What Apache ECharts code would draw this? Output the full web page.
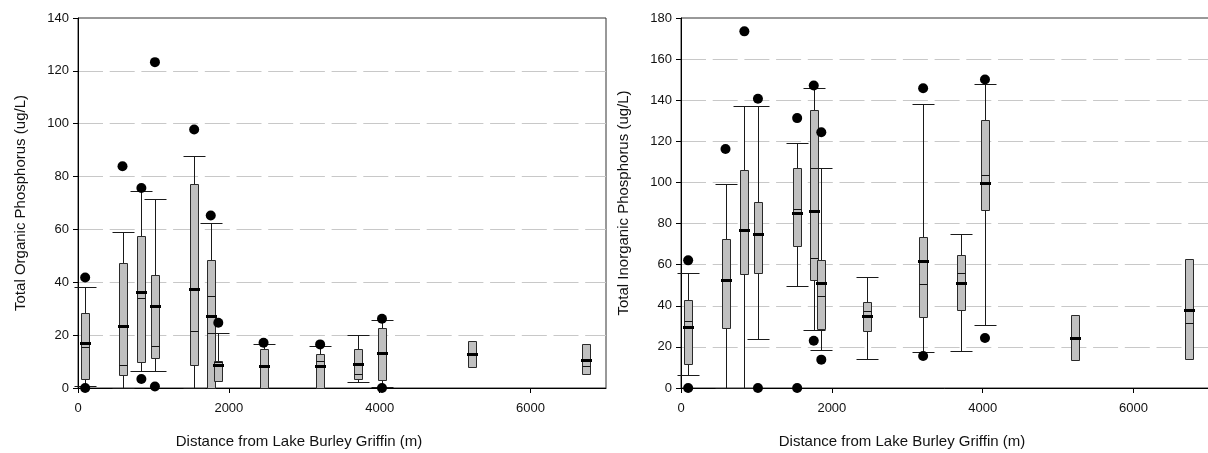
<!DOCTYPE html>
<html><head><meta charset="utf-8">
<script src="https://cdn.jsdelivr.net/npm/echarts@6/dist/echarts.min.js"></script>
<style>html,body{margin:0;padding:0;background:#fff}#c{width:1208px;height:453px}</style>
</head><body><div id="c"></div>
<script>
// Distance of each sampling site from Lake Burley Griffin (m)
const distances = [95, 590, 840, 1020, 1540, 1760, 1860, 2460, 3210, 3710, 4030, 5230, 6730];

// Total Organic Phosphorus (ug/L)
const orgLow  = [0.9, 0,    6.4,  6.4,  0,    0,    2.8,  0,    0,    2.1,  0.2,  7.9,  5.4];
const orgQ1   = [3.4, 5.0,  9.9,  11.3, 8.7,  0,    2.8,  0,    0,    3.4,  3.1,  7.9,  5.4];
const orgMed  = [15.7, 8.6, 34.0, 16.0, 21.7, 34.7, 9.7,  8.4,  10.1, 5.4,  13.4, 12.9, 8.4];
const orgQ3   = [28.4, 47.3, 57.5, 42.6, 77.2, 48.4, 10.3, 14.9, 12.9, 14.8, 22.7, 17.6, 16.5];
const orgHigh = [38.1, 59.0, 74.6, 71.5, 87.6, 62.5, 21.0, 16.8, 16.0, 20.0, 25.7, 17.6, 16.5];
const orgMean = [17.0, 23.5, 36.3, 31.0, 37.3, 27.2, 8.6,  8.4,  8.2,  9.1,  13.4, 12.9, 10.7];
const orgOutX = [95, 95, 590, 840, 840, 1020, 1020, 1540, 1760, 1860, 2460, 3210, 4030, 4030];
const orgOutY = [41.8, 0, 83.9, 75.7, 3.4, 123.3, 0.6, 97.8, 65.3, 24.7, 17.1, 16.5, 26.2, 0];

// Total Inorganic Phosphorus (ug/L)
const inoLow  = [6.3,  0,    0,     24.0, 49.8,  28.4,  18.5,  14.1, 17.5,  18.0, 30.5,  13.4, 14.3];
const inoQ1   = [11.8, 29.2, 55.6,  55.9, 69.1,  52.7,  28.7,  27.9, 34.5,  38.1, 86.6,  13.4, 14.3];
const inoMed  = [32.4, 52.4, 76.5,  74.9, 87.2,  63.2,  44.9,  37.6, 50.6,  55.9, 103.6, 24.3, 31.6];
const inoQ3   = [42.6, 72.5, 106.1, 90.6, 107.0, 135.2, 62.3,  41.8, 73.3,  64.8, 130.4, 35.5, 62.8];
const inoHigh = [55.9, 99.4, 137.0, 137.0, 119.2, 146.0, 106.9, 54.0, 138.3, 74.9, 148.0, 35.5, 62.8];
const inoMean = [29.5, 52.4, 76.9,  74.9, 85.1,  85.9,  51.1,  35.2, 61.8,  50.9, 99.9,  24.3, 37.8];
const inoOutX = [95, 95, 590, 840, 1020, 1020, 1540, 1540, 1760, 1760, 1860, 1860, 3210, 3210, 4030, 4030];
const inoOutY = [62.1, 0, 116.3, 173.5, 140.7, 0, 131.3, 0, 147.2, 23.0, 124.4, 13.8, 145.8, 15.6, 150.1, 24.3];

const xTitle = 'Distance from Lake Burley Griffin (m)';
const yTitleOrg = 'Total Organic Phosphorus (ug/L)';
const yTitleIno = 'Total Inorganic Phosphorus (ug/L)';

function boxData(low, q1, med, q3, high, mean) {
  return distances.map((d, i) => [d, low[i], q1[i], med[i], q3[i], high[i], mean[i]]);
}
function pairs(xs, ys) { return xs.map((x, i) => [x, ys[i]]); }

const snap = v => Math.round(v) + 0.5;

function renderBox(params, api) {
  const x = api.value(0);
  const low = api.value(1), q1 = api.value(2), med = api.value(3),
        q3 = api.value(4), high = api.value(5), mean = api.value(6);
  const c = api.coord([x, q1]);
  const cx = snap(c[0]);
  const y = v => api.coord([x, v])[1];
  const yLow = snap(y(low)), yQ1 = snap(y(q1)), yMed = snap(y(med)),
        yQ3 = snap(y(q3)), yHigh = snap(y(high)), yMean = Math.round(y(mean));
  const bw = 8, cw = 22, mw = 11;
  const ls = {stroke: '#1a1a1a', lineWidth: 1};
  const ch = [];
  if (high > q3) {
    ch.push({type: 'line', shape: {x1: cx, y1: yQ3, x2: cx, y2: yHigh}, style: ls});
    ch.push({type: 'line', shape: {x1: cx - cw / 2, y1: yHigh, x2: cx + cw / 2, y2: yHigh}, style: ls});
  }
  if (low < q1) {
    ch.push({type: 'line', shape: {x1: cx, y1: yQ1, x2: cx, y2: yLow}, style: ls});
    ch.push({type: 'line', shape: {x1: cx - cw / 2, y1: yLow, x2: cx + cw / 2, y2: yLow}, style: ls});
  }
  ch.push({type: 'rect', shape: {x: cx - bw / 2, y: yQ3, width: bw, height: yQ1 - yQ3},
           style: {fill: '#c0c0c0', stroke: '#2a2a2a', lineWidth: 1}});
  ch.push({type: 'line', shape: {x1: cx - bw / 2, y1: yMed, x2: cx + bw / 2, y2: yMed}, style: {stroke: '#111', lineWidth: 1}});
  ch.push({type: 'line', shape: {x1: cx - mw / 2, y1: yMean + 0.5, x2: cx + mw / 2, y2: yMean + 0.5}, style: {stroke: '#000', lineWidth: 3}});
  return {type: 'group', children: ch};
}

const font = 'Liberation Sans, Arial, sans-serif';

function xAxisCfg(gi) {
  return {
    gridIndex: gi, type: 'value', min: 0, max: 7000, interval: 2000,
    name: xTitle, nameLocation: 'middle', nameGap: 46,
    nameTextStyle: {fontFamily: font, fontSize: 15, color: '#111', padding: [0, 86, 0, 0]},
    axisLine: {show: true, onZero: false, lineStyle: {color: '#000', width: 1}},
    axisTick: {show: true, length: 5, inside: false, lineStyle: {color: '#000'}},
    axisLabel: {fontFamily: font, fontSize: 13, color: '#111', margin: 14, showMaxLabel: false,
                formatter: v => String(v)},
    splitLine: {show: false}
  };
}
function yAxisCfg(gi, max, title) {
  return {
    gridIndex: gi, type: 'value', min: 0, max: max, interval: 20,
    name: title, nameLocation: 'middle', nameGap: 50,
    nameTextStyle: {fontFamily: font, fontSize: 15, color: '#111'},
    axisLine: {show: true, onZero: false, lineStyle: {color: '#000', width: 1}},
    axisTick: {show: true, length: 5, inside: false, lineStyle: {color: '#000'}},
    axisLabel: {fontFamily: font, fontSize: 13, color: '#111', margin: 9, formatter: v => String(v)},
    splitLine: {show: true, showMinLine: false, showMaxLine: false,
                lineStyle: {color: '#c8c8c8', width: 1, type: [25, 6.7]}}
  };
}

const chart = echarts.init(document.getElementById('c'), null, {renderer: 'canvas'});
chart.setOption({
  backgroundColor: '#fff',
  animation: false,
  grid: [
    {left: 78, top: 18, width: 528, height: 370, show: true, borderColor: '#333', borderWidth: 1,
     backgroundColor: 'transparent', containLabel: false, outerBoundsMode: 'none'},
    {left: 681, top: 18, width: 528, height: 370, show: true, borderColor: '#333', borderWidth: 1,
     backgroundColor: 'transparent', containLabel: false, outerBoundsMode: 'none'}
  ],
  xAxis: [xAxisCfg(0), xAxisCfg(1)],
  yAxis: [yAxisCfg(0, 140, yTitleOrg), yAxisCfg(1, 180, yTitleIno)],
  series: [
    {type: 'custom', xAxisIndex: 0, yAxisIndex: 0, renderItem: renderBox,
     data: boxData(orgLow, orgQ1, orgMed, orgQ3, orgHigh, orgMean), encode: {x: 0, y: [1, 5]}, clip: false},
    {type: 'scatter', xAxisIndex: 0, yAxisIndex: 0, data: pairs(orgOutX, orgOutY),
     symbol: 'circle', symbolSize: 10, itemStyle: {color: '#000', opacity: 1}, z: 5},
    {type: 'custom', xAxisIndex: 1, yAxisIndex: 1, renderItem: renderBox,
     data: boxData(inoLow, inoQ1, inoMed, inoQ3, inoHigh, inoMean), encode: {x: 0, y: [1, 5]}, clip: false},
    {type: 'scatter', xAxisIndex: 1, yAxisIndex: 1, data: pairs(inoOutX, inoOutY),
     symbol: 'circle', symbolSize: 10, itemStyle: {color: '#000', opacity: 1}, z: 5}
  ]
});
</script>
</body></html>
